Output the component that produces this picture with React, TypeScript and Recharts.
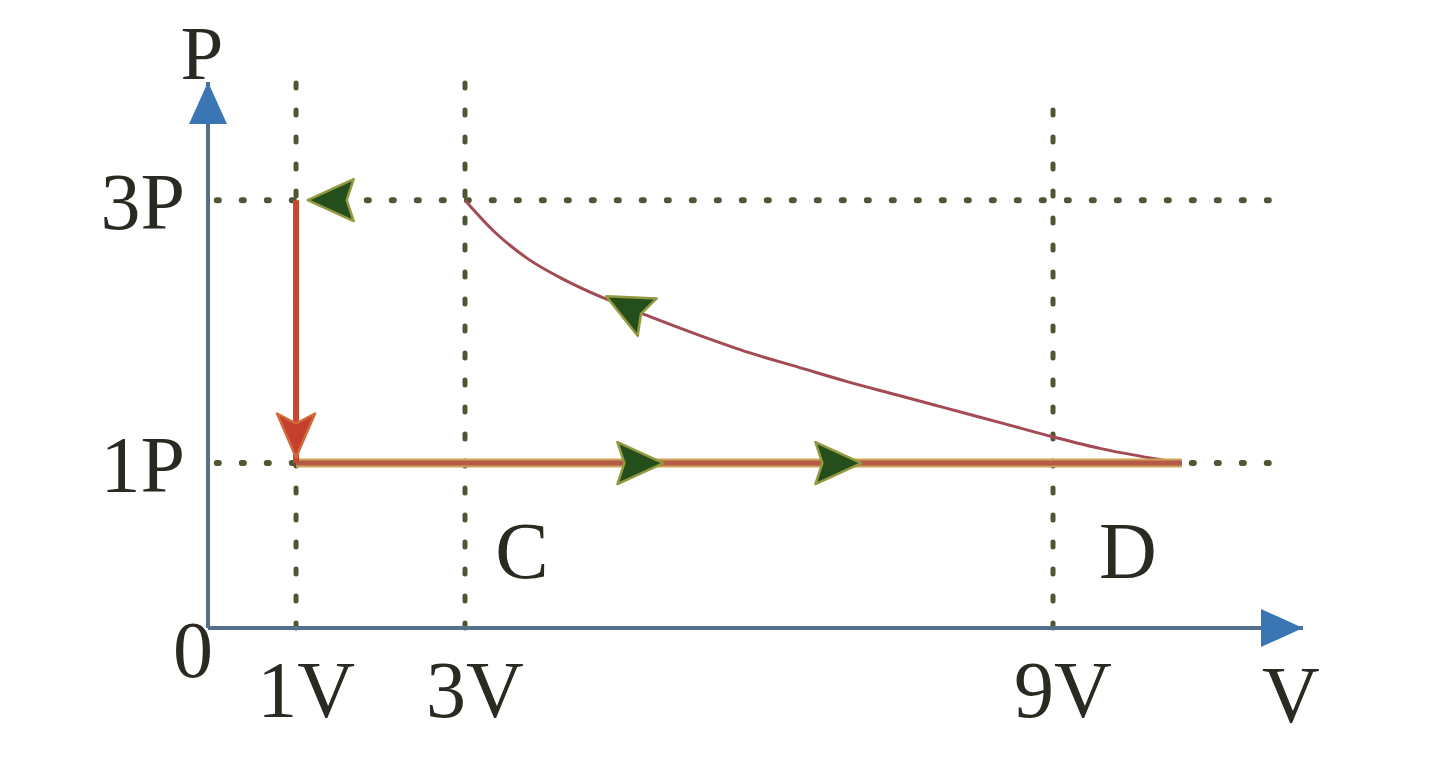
import React from 'react';
import { ComposedChart, Line, Scatter, XAxis, YAxis } from 'recharts';

// P-V cycle, volumes in units of V and pressures in units of P
const stepDown = [{ V: 1, P: 3 }, { V: 1, P: 1 }];
const stepAcross = [{ V: 1, P: 1 }, { V: 10.34, P: 1 }];
const curveV = [3, 3.3, 3.65, 4.0, 4.4, 4.9, 5.4, 5.9, 6.4, 6.9, 7.4, 7.9, 8.5, 9, 9.5, 10.34];
const curveP = [3, 2.76, 2.55, 2.4, 2.26, 2.11, 1.97, 1.84, 1.73, 1.62, 1.52, 1.42, 1.3, 1.2, 1.11, 1];

// dotted guides
const guideV = [1, 3, 9];
const guideVTop = [3.95, 3.9, 3.78];
const guideP = [3, 1];
const guidePEnd = [11.3, 11.46];

// ticks
const vTicks = [0, 1, 3, 9];
const vTickLabels = ['0', '1V', '3V', '9V'];
const pTicks = [1, 3];
const pTickLabels = ['1P', '3P'];

// state labels under the 1P line
const stateNames = ['C', 'D'];
const stateV = [3.58, 9.78];
const stateP = [0.47, 0.47];

// direction arrows (heading in degrees, screen coords)
const greenArrowV = [1.41, 4.65, 4.79, 6.81];
const greenArrowP = [3, 2.19, 1, 1];
const greenArrowHeading = [180, 207, 0, 0];
const redArrowV = [1];
const redArrowP = [1.21];
const redArrowHeading = [90];

const curve = curveV.map((V, i) => ({ V, P: curveP[i] }));
const greenArrows = greenArrowV.map((V, i) => ({ V, P: greenArrowP[i], heading: greenArrowHeading[i] }));
const redArrows = redArrowV.map((V, i) => ({ V, P: redArrowP[i], heading: redArrowHeading[i] }));
const stateLabels = stateNames.map((name, i) => ({ V: stateV[i], P: stateP[i], name }));

// the sketch isn't drawn to scale, so both axes use a piecewise linear scale
const vKnots = [0, 1, 3, 9, 11.6];
const vStops = [0, 0.0804, 0.2347, 0.7717, 1];
const pKnots = [0, 1, 3, 3.9];
const pStops = [0, 0.302, 0.7835, 1];

function piecewise(knots: number[], stops: number[]) {
  let dom = [knots[0], knots[knots.length - 1]];
  let rng = [0, 1];
  const seg = (arr: number[], v: number) => {
    let i = 0;
    while (i < arr.length - 2 && v > arr[i + 1]) i++;
    return i;
  };
  const s: any = (v: number) => {
    const i = seg(knots, v);
    const t = (v - knots[i]) / (knots[i + 1] - knots[i]);
    const f = stops[i] + t * (stops[i + 1] - stops[i]);
    return rng[0] + f * (rng[1] - rng[0]);
  };
  s.domain = (d?: number[]) => {
    if (d === undefined) return dom.slice();
    dom = d.slice();
    return s;
  };
  s.range = (r?: number[]) => {
    if (r === undefined) return rng.slice();
    rng = r.slice();
    return s;
  };
  s.invert = (px: number) => {
    const f = (px - rng[0]) / (rng[1] - rng[0]);
    const i = seg(stops, f);
    const t = (f - stops[i]) / (stops[i + 1] - stops[i]);
    return knots[i] + t * (knots[i + 1] - knots[i]);
  };
  s.copy = () => piecewise(knots, stops).domain(dom).range(rng);
  s.ticks = () => knots.slice(0, -1);
  s.tickFormat = () => (v: number) => String(v);
  s.nice = () => s;
  s.clamp = () => s;
  return s;
}

const FONT = 'Liberation Serif, Times New Roman, serif';
const INK = '#2b2a22';
const DOT = '#4e5634';

const XTick = (props: any) => {
  const { x, y, payload } = props;
  const i = vTicks.indexOf(payload.value);
  if (payload.value === 0) {
    return (
      <text x={x - 15} y={y + 41} textAnchor="middle" fontFamily={FONT} fontSize={80} fill={INK}>
        {vTickLabels[i]}
      </text>
    );
  }
  return (
    <text x={x + 10} y={y + 81} textAnchor="middle" fontFamily={FONT} fontSize={80} fill={INK}>
      {vTickLabels[i]}
    </text>
  );
};

const YTick = (props: any) => {
  const { x, y, payload } = props;
  const i = pTicks.indexOf(payload.value);
  return (
    <text x={x - 15} y={y + 29} textAnchor="end" fontFamily={FONT} fontSize={80} fill={INK}>
      {pTickLabels[i]}
    </text>
  );
};

const Arrow = ({ cx, cy, heading, fill, edge, len, wid, notch }: any) => {
  const h = len / 2;
  const w = wid / 2;
  const d = `M${h},0 L${-h},${-w} L${-h + notch},0 L${-h},${w} Z`;
  return (
    <path
      d={d}
      transform={`translate(${cx},${cy}) rotate(${heading})`}
      fill={fill}
      stroke={edge}
      strokeWidth={2.5}
      strokeLinejoin="round"
    />
  );
};

export default function App() {
  return (
    <ComposedChart
      width={1420}
      height={755}
      margin={{ top: 74, right: 125, bottom: 75, left: 100 }}
      style={{ background: '#fff' }}
    >
      <defs>
        <marker
          id="axisHead"
          markerUnits="userSpaceOnUse"
          markerWidth={42}
          markerHeight={40}
          viewBox="0 0 42 40"
          refX={42}
          refY={20}
          orient="auto-start-reverse"
        >
          <path d="M0,1 L42,20 L0,39 Z" fill="#3a76b3" />
        </marker>
      </defs>
      <XAxis
        dataKey="V"
        type="number"
        scale={piecewise(vKnots, vStops)}
        domain={[0, 11.6]}
        ticks={vTicks}
        interval={0}
        height={60}
        tickLine={false}
        axisLine={{ stroke: '#55708a', strokeWidth: 4, markerEnd: 'url(#axisHead)' }}
        tick={<XTick />}
        label={{
          content: (p: any) => {
            const vb = p.viewBox;
            return (
              <text x={vb.x + vb.width - 12} y={vb.y + 94} textAnchor="middle" fontFamily={FONT} fontSize={80} fill={INK}>
                V
              </text>
            );
          },
        }}
      />
      <YAxis
        dataKey="P"
        type="number"
        scale={piecewise(pKnots, pStops)}
        domain={[0, 3.9]}
        ticks={pTicks}
        interval={0}
        width={100}
        tickLine={false}
        axisLine={{ stroke: '#55708a', strokeWidth: 4, markerStart: 'url(#axisHead)' }}
        tick={<YTick />}
        label={{
          content: (p: any) => {
            const vb = p.viewBox;
            return (
              <text x={vb.x + vb.width - 6} y={vb.y - 3} textAnchor="middle" fontFamily={FONT} fontSize={77} fill={INK}>
                P
              </text>
            );
          },
        }}
      />

      {guideV.map((v, i) => (
        <Line
          key={`gv${v}`}
          data={[{ V: v, P: 0 }, { V: v, P: guideVTop[i] }]}
          dataKey="P"
          stroke={DOT}
          strokeWidth={5}
          strokeDasharray="5 22"
          strokeLinecap="round"
          dot={false}
          activeDot={false}
          isAnimationActive={false}
        />
      ))}
      {guideP.map((p, i) => (
        <Line
          key={`gp${p}`}
          data={[{ V: 0.1, P: p }, { V: guidePEnd[i], P: p }]}
          dataKey="P"
          stroke={DOT}
          strokeWidth={6}
          strokeDasharray="2 23"
          strokeLinecap="round"
          dot={false}
          activeDot={false}
          isAnimationActive={false}
        />
      ))}

      <Line
        data={curve}
        dataKey="P"
        type="monotone"
        stroke="#a34b55"
        strokeWidth={3}
        dot={false}
        activeDot={false}
        isAnimationActive={false}
      />
      <Line
        data={stepAcross}
        dataKey="P"
        stroke="#d0a35a"
        strokeWidth={9}
        dot={false}
        activeDot={false}
        isAnimationActive={false}
      />
      <Line
        data={stepAcross}
        dataKey="P"
        stroke="#b35a48"
        strokeWidth={5}
        dot={false}
        activeDot={false}
        isAnimationActive={false}
      />
      <Line
        data={stepDown}
        dataKey="P"
        stroke="#c6482f"
        strokeWidth={6}
        dot={false}
        activeDot={false}
        isAnimationActive={false}
      />

      <Scatter
        data={greenArrows}
        dataKey="P"
        isAnimationActive={false}
        shape={(p: any) => (
          <Arrow cx={p.cx} cy={p.cy} heading={p.payload.heading} fill="#244f1d" edge="#93993f" len={46} wid={42} notch={7} />
        )}
      />
      <Scatter
        data={redArrows}
        dataKey="P"
        isAnimationActive={false}
        shape={(p: any) => (
          <Arrow cx={p.cx} cy={p.cy} heading={p.payload.heading} fill="#c4402c" edge="#d06a3c" len={44} wid={38} notch={10} />
        )}
      />
      <Scatter
        data={stateLabels}
        dataKey="P"
        isAnimationActive={false}
        shape={(p: any) => (
          <text x={p.cx} y={p.cy + 27} textAnchor="middle" fontFamily={FONT} fontSize={80} fill={INK}>
            {p.payload.name}
          </text>
        )}
      />
    </ComposedChart>
  );
}
